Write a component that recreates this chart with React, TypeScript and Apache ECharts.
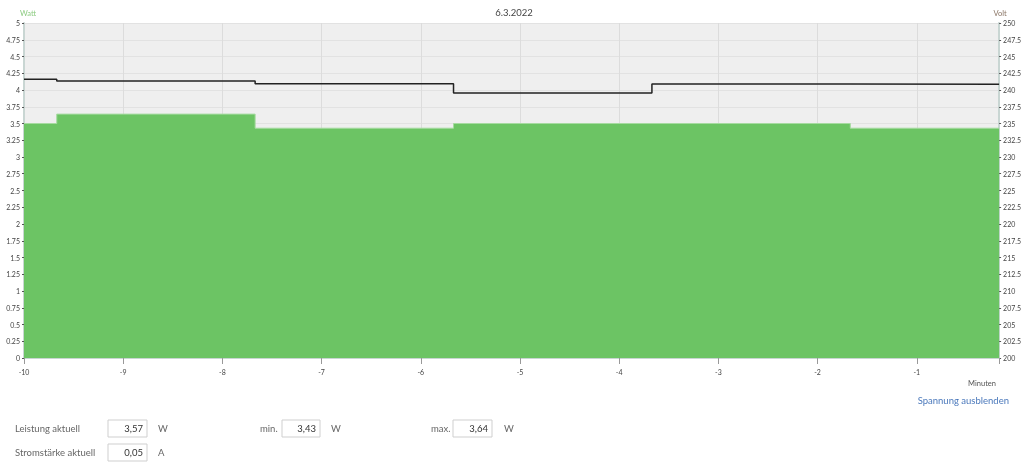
import React, { useEffect, useRef } from "react";
import * as echarts from "echarts";

const title = "6.3.2022";
const minutes = [-10, -9.67, -7.67, -5.67, -3.67, -1.67, -0.17];
const powerW = [3.5, 3.64, 3.43, 3.5, 3.5, 3.43, 3.43];
const voltageV = [241.6, 241.35, 240.95, 239.55, 240.9, 240.85, 240.85];
const formRows = [
  { label: "Leistung aktuell", value: "3,57", unit: "W" },
  { label: "Stromstärke aktuell", value: "0,05", unit: "A" },
];
const minValue = "3,43";
const maxValue = "3,64";

const FONT = "Lato";

export default function App() {
  const ref = useRef<HTMLDivElement>(null);
  useEffect(() => {
    document.body.style.margin = "0";
    const chart = echarts.init(ref.current!, null, { renderer: "svg" });
    const input = (x: number, y: number, w: number, val: string) => [
      {
        type: "rect",
        shape: { x, y, width: w, height: 17 },
        style: { fill: "#fff", stroke: "#cfcfcf", lineWidth: 1 },
      },
      {
        type: "text",
        x: x + w - 4,
        y: y + 8.5,
        style: { text: val, fill: "#333", font: `9.5px ${FONT}`, align: "right", verticalAlign: "middle" },
      },
    ];
    const label = (x: number, y: number, t: string, color = "#666", size = 9.5, align = "left") => ({
      type: "text",
      x,
      y,
      style: { text: t, fill: color, font: `${size}px ${FONT}`, align, verticalAlign: "middle" },
    });
    chart.setOption({
      animation: false,
      grid: {
        left: 24,
        right: 21.5,
        top: 23,
        bottom: 107,
        show: true,
        backgroundColor: "#efefef",
        borderWidth: 0,
      },
      xAxis: {
        type: "value",
        min: -10,
        max: -0.17,
        interval: 1,
        axisLine: { show: true, lineStyle: { color: "#c9d6d3", width: 2 } },
        axisTick: { show: true, length: 6, lineStyle: { color: "#999" } },
        axisLabel: {
          fontSize: 7,
          color: "#444",
          margin: 10,
          fontFamily: FONT,
          formatter: (v: number) => (Number.isInteger(v) ? String(v) : ""),
        },
        splitLine: { show: true, lineStyle: { color: "#dcdcdc" } },
      },
      yAxis: [
        {
          type: "value",
          min: 0,
          max: 5,
          interval: 0.25,
          axisLine: { show: true, lineStyle: { color: "#c9d6d3", width: 2 } },
          axisTick: { show: true, length: 2, lineStyle: { color: "#555" } },
          axisLabel: { fontSize: 7, color: "#444", margin: 4, fontFamily: FONT },
          splitLine: { show: true, lineStyle: { color: "#e2e2e2" } },
        },
        {
          type: "value",
          min: 200,
          max: 250,
          interval: 2.5,
          position: "right",
          axisLine: { show: true, lineStyle: { color: "#c9d6d3", width: 2 } },
          axisTick: { show: true, length: 2, lineStyle: { color: "#555" } },
          axisLabel: { fontSize: 7, color: "#444", margin: 4, fontFamily: FONT },
          splitLine: { show: false },
        },
      ],
      series: [
        {
          type: "line",
          yAxisIndex: 0,
          step: "end",
          symbol: "none",
          data: minutes.map((m, i) => [m, powerW[i]]),
          lineStyle: { color: "#a6dba0", width: 1 },
          areaStyle: { color: "#6cc464", opacity: 1 },
          z: 2,
        },
        {
          type: "line",
          yAxisIndex: 1,
          step: "end",
          symbol: "none",
          data: minutes.map((m, i) => [m, voltageV[i]]),
          lineStyle: { color: "#222", width: 1.5 },
          z: 3,
        },
      ],
      graphic: [
        label(514, 12, title, "#444", 9.5, "center"),
        label(28, 13, "Watt", "#8ccb80", 7.5, "center"),
        label(1000, 13, "Volt", "#8a7565", 7.5, "center"),
        label(982, 383, "Minuten", "#555", 7.5, "center"),
        label(1009, 400, "Spannung ausblenden", "#4a78bb", 9.5, "right"),
        label(15, 428, formRows[0].label),
        ...input(108, 420, 39, formRows[0].value),
        label(158, 428, formRows[0].unit),
        label(260, 428, "min."),
        ...input(282, 420, 38, minValue),
        label(331, 428, "W"),
        label(431, 428, "max."),
        ...input(453, 420, 39, maxValue),
        label(504, 428, "W"),
        label(15, 452, formRows[1].label),
        ...input(108, 444, 39, formRows[1].value),
        label(158, 452, formRows[1].unit),
      ],
    });
    return () => chart.dispose();
  }, []);
  return <div ref={ref} style={{ position: "fixed", left: 0, top: 0, width: 1024, height: 465 }} />;
}
